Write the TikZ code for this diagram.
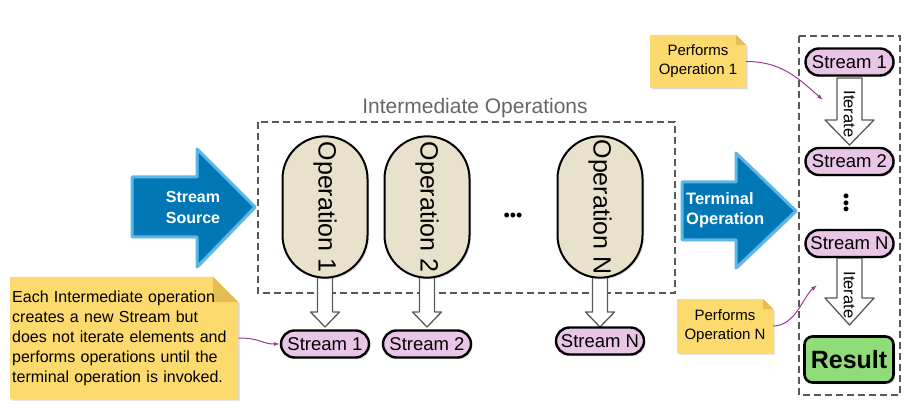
\documentclass[tikz,border=0pt]{standalone}
\usepackage{fontspec}
\setmainfont{Liberation Sans}
\usetikzlibrary{arrows.meta, positioning, shapes.misc, shadows}

\definecolor{srcblue}{HTML}{0277B5}
\definecolor{srcedge}{HTML}{5CB6E6}
\definecolor{opbeige}{HTML}{E8E2CC}
\definecolor{streampink}{HTML}{E9C6E6}
\definecolor{noteyellow}{HTML}{FDDA6E}
\definecolor{notefold}{HTML}{E2BE55}
\definecolor{resultgreen}{HTML}{8FDC78}
\definecolor{linkpurple}{HTML}{963C94}
\definecolor{boxgray}{HTML}{595959}

\begin{document}
\begin{tikzpicture}[x=1pt, y=-1pt]
    \tikzstyle{softshadow}=[drop shadow={shadow xshift=1.5pt, shadow yshift=-1.5pt, opacity=0.3}]
    \tikzstyle{opbox}=[draw, line width=2pt, fill=opbeige, rounded rectangle, minimum width=148pt, minimum height=85pt, rotate=-90, font=\fontsize{25}{25}\selectfont, softshadow]
    \tikzstyle{streambox}=[draw, line width=2.4pt, fill=streampink, rounded rectangle, minimum width=88pt, minimum height=27pt, inner sep=0pt, font=\fontsize{18.5}{18.5}\selectfont, softshadow]
    \tikzstyle{resultbox}=[draw, line width=2.6pt, fill=resultgreen, rounded corners=8pt, minimum width=89pt, minimum height=46pt, font=\bfseries\fontsize{25}{25}\selectfont, softshadow]
    \tikzstyle{groupbox}=[draw=boxgray, line width=1.2pt, dash pattern=on 7pt off 4pt]
    \tikzstyle{bigarrow}=[fill=srcblue, draw=srcedge, line width=3pt, line join=round, softshadow]
    \tikzstyle{hollowarrow}=[fill=white, draw=black!65, line width=1.3pt, line join=round]
    \tikzstyle{notebox}=[fill=noteyellow, softshadow]
    \tikzstyle{notetext}=[inner sep=0pt, font=\fontsize{15}{19}\selectfont, align=center]
    \tikzstyle{link}=[draw=linkpurple, line width=1pt, -{Latex[length=6pt, width=4pt]}]

    \useasboundingbox (0,0) rectangle (916,414);

    % source and terminal arrows
    \draw[bigarrow] (132,177) -- (197,177) -- (197,149) -- (255,207) -- (197,267) -- (197,237) -- (132,237) -- cycle;
    \node[text=white, font=\bfseries\fontsize{16}{21}\selectfont, align=center] (source) at (193,207) {Stream\\Source};

    \draw[bigarrow] (682,182) -- (736,182) -- (736,153) -- (796,211) -- (736,268) -- (736,240) -- (682,240) -- cycle;
    \node[text=white, font=\bfseries\fontsize{16.5}{20}\selectfont, align=left, anchor=west, inner sep=0pt] (terminal) at (686,210) {Terminal\\Operation};

    % intermediate operations
    \draw[groupbox] (258,122) rectangle (675,293);
    \node[text=black!60, font=\fontsize{21}{21}\selectfont] (intlabel) at (475,108) {Intermediate Operations};

    \foreach \x in {325,427,600} {
        \draw[hollowarrow] (\x-7.5,275) -- (\x+7.5,275) -- (\x+7.5,312) -- (\x+14.5,312) -- (\x,327) -- (\x-14.5,312) -- (\x-7.5,312) -- cycle;
    }

    \node[opbox] (op1) at (325,207) {Operation 1};
    \node[opbox] (op2) at (427,207) {Operation 2};
    \node[opbox] (opn) at (600,207) {Operation N};
    \node[font=\fontsize{18}{18}\selectfont] (opdots) at (513,217) {•••};

    \node[streambox] (s1) at (325,344) {Stream 1};
    \node[streambox] (s2) at (427,344) {Stream 2};
    \node[streambox] (sn) at (600,341) {Stream N};

    % terminal side
    \draw[groupbox] (799,36) rectangle (900,395);

    \draw[hollowarrow] (837,78) -- (862,78) -- (862,120) -- (874,120) -- (849.5,145) -- (825,120) -- (837,120) -- cycle;
    \node[rotate=-90, inner sep=0pt, font=\fontsize{16.5}{16.5}\selectfont] (iter1) at (849.5,114) {Iterate};
    \draw[hollowarrow] (837,258) -- (862,258) -- (862,298) -- (874,298) -- (849.5,325) -- (825,298) -- (837,298) -- cycle;
    \node[rotate=-90, inner sep=0pt, font=\fontsize{16.5}{16.5}\selectfont] (itern) at (849.5,295) {Iterate};

    \node[streambox] (rs1) at (849.5,62) {Stream 1};
    \node[streambox] (rs2) at (849.5,161.5) {Stream 2};
    \node[rotate=90, font=\fontsize{18}{18}\selectfont] (rdots) at (848,203) {•••};
    \node[streambox] (rsn) at (849.5,243.5) {Stream N};
    \node[resultbox] (result) at (849,359.5) {Result};

    % notes
    \fill[notebox] (10,277) -- (213,277) -- (238,302) -- (238,399) -- (10,399) -- cycle;
    \fill[notefold] (213,277) -- (213,302) -- (238,302) -- cycle;
    \node[notetext, font=\fontsize{16}{20}\selectfont, align=left, anchor=west, text width=224pt, inner xsep=2pt] (noteint) at (10,338) {Each Intermediate operation\\creates a new Stream but\\does not iterate elements and\\performs operations until the\\terminal operation is invoked.};

    \fill[notebox] (650,35) -- (736,35) -- (746,45) -- (746,88) -- (650,88) -- cycle;
    \fill[notefold] (736,35) -- (736,45) -- (746,45) -- cycle;
    \node[notetext, minimum width=96pt, minimum height=53pt] (noteop1) at (698,61.5) {Performs\\Operation 1};

    \fill[notebox] (677,299) -- (763,299) -- (773,309) -- (773,353) -- (677,353) -- cycle;
    \fill[notefold] (763,299) -- (763,309) -- (773,309) -- cycle;
    \node[notetext, minimum width=96pt, minimum height=54pt] (noteopn) at (725,326) {Performs\\Operation N};

    % links from notes
    \coordinate (iter1side) at (823,100);
    \coordinate (iternside) at (817,285);
    \draw[link] (noteint.east) .. controls +(22,0) and +(-18,0) .. (s1.west);
    \draw[link] (noteop1.east) .. controls +(35,0) and +(-25,-22) .. (iter1side);
    \draw[link] (noteopn.east) .. controls +(22,0) and +(-14,12) .. (iternside);
\end{tikzpicture}
\end{document}
